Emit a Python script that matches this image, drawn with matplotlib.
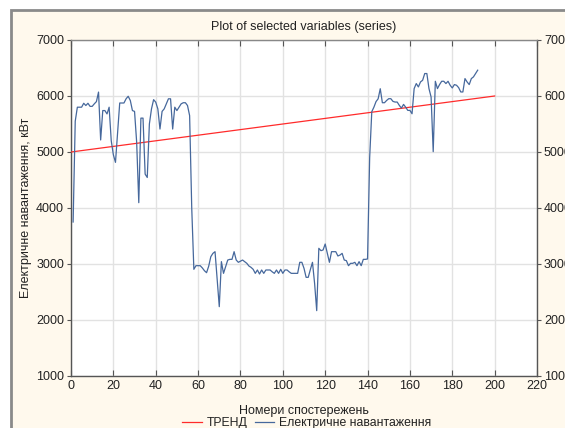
import matplotlib
matplotlib.use("Agg")
import matplotlib.pyplot as plt
from matplotlib.patches import Rectangle

plt.rcParams['font.family'] = ['Liberation Sans', 'DejaVu Sans']

# ---------------- data ----------------
obs_x = list(range(1, 193))
load_values = [
    3750, 5550, 5800, 5800, 5800, 5870, 5830, 5870, 5815, 5815,   # 1-10
    5860, 5900, 6070, 5215, 5740, 5740, 5680, 5800, 5200, 4950,   # 11-20
    4815, 5350, 5875, 5875, 5875, 5950, 5995, 5920, 5740, 5725,   # 21-30
    5175, 4095, 5605, 5605, 4605, 4545, 5500, 5770, 5935, 5890,   # 31-40
    5770, 5410, 5725, 5770, 5860, 5950, 5950, 5410, 5800, 5740,   # 41-50
    5800, 5860, 5880, 5880, 5830, 5650, 4000, 2905, 2970, 2970,   # 51-60
    2970, 2930, 2880, 2845, 2960, 3130, 3190, 3220, 2730, 2238,   # 61-70
    3042, 2833, 2950, 3071, 3083, 3083, 3220, 3071, 3030, 3050,   # 71-80
    3071, 3042, 3012, 2964, 2940, 2905, 2833, 2893, 2821, 2893,   # 81-90
    2833, 2893, 2893, 2893, 2860, 2833, 2893, 2833, 2905, 2833,   # 91-100
    2893, 2893, 2860, 2833, 2833, 2833, 2833, 3030, 3030, 2923,   # 101-110
    2762, 2762, 2900, 3030, 2655, 2167, 3280, 3238, 3250, 3357,   # 111-120
    3190, 3030, 3220, 3220, 3220, 3143, 3160, 3190, 3071, 3060,   # 121-130
    2970, 3012, 3012, 3030, 2970, 3042, 2970, 3083, 3083, 3090,   # 131-140
    4900, 5720, 5800, 5900, 5950, 6130, 5880, 5880, 5920, 5952,   # 141-150
    5952, 5904, 5892, 5892, 5832, 5784, 5850, 5800, 5743, 5743,   # 151-160
    5683, 6132, 6222, 6162, 6251, 6281, 6401, 6401, 6132, 5982,   # 161-170
    5006, 6263, 6132, 6204, 6263, 6263, 6222, 6263, 6192, 6144,   # 171-180
    6204, 6192, 6150, 6072, 6072, 6311, 6251, 6204, 6311, 6341,   # 181-190
    6400, 6461,                                                   # 191-192
]
trend_x = [0, 200]
trend_y = [5000, 6000]

x_ticks = list(range(0, 221, 20))
y_ticks = list(range(1000, 7001, 1000))

title = "Plot of selected variables (series)"
x_label = "Номери спостережень"
y_label = "Електричне навантаження, кВт"
trend_label = "ТРЕНД"
series_label = "Електричне навантаження"

# ---------------- figure ----------------
W, H = 565, 428
fig = plt.figure(figsize=(W / 100, H / 100), dpi=100, facecolor='white')

# cream panel with grey frame
panel = Rectangle((11 / W, -0.05), 1.1, 1 - 10.5 / H + 0.05,
                  transform=fig.transFigure, facecolor='#FFF9ED',
                  edgecolor='#8a8a8a', linewidth=2, zorder=-10)
fig.patches.append(panel)

ax = fig.add_axes([71 / W, 1 - 376 / H, (537 - 71) / W, (376 - 40) / H])
ax.set_zorder(1)
ax.set_facecolor('white')

ax.plot(trend_x, trend_y, color='#FF2B2B', linewidth=0.9, label=trend_label, zorder=3)
ax.plot(obs_x, load_values, color='#46689C', linewidth=0.9, label=series_label, zorder=4)

ax.set_xlim(0, 220)
ax.set_ylim(1000, 7000)
ax.set_xticks(x_ticks)
ax.set_yticks(y_ticks)
ax.grid(True, color='#E2E2E2', linewidth=1.0, zorder=0)
ax.set_axisbelow(True)

for side in ['left', 'bottom', 'right', 'top']:
    ax.spines[side].set_color('#555555')
    ax.spines[side].set_linewidth(1.0)
ax.spines['top'].set_color('#888888')

ax.tick_params(axis='x', direction='in', top=True, bottom=True, length=4,
               color='#555555', labelsize=9, pad=3, labelcolor='#222222')
ax.tick_params(axis='y', direction='out', left=True, right=True, length=3,
               color='#555555', labelsize=9, pad=2, labelright=True,
               labelcolor='#222222')

ax.set_title(title, fontsize=9, color='#222222', pad=7)
ax.set_xlabel(x_label, fontsize=9, color='#222222', labelpad=9)
ax.set_ylabel(y_label, fontsize=9, color='#222222', labelpad=3)

fig.legend(loc='center', bbox_to_anchor=(0.543, 1 - 423 / H), ncol=2,
           frameon=False, fontsize=8.8, handlelength=1.6, handletextpad=0.4,
           columnspacing=0.6, labelcolor='#222222')

fig.savefig('out.png', dpi=100, facecolor=fig.get_facecolor())
